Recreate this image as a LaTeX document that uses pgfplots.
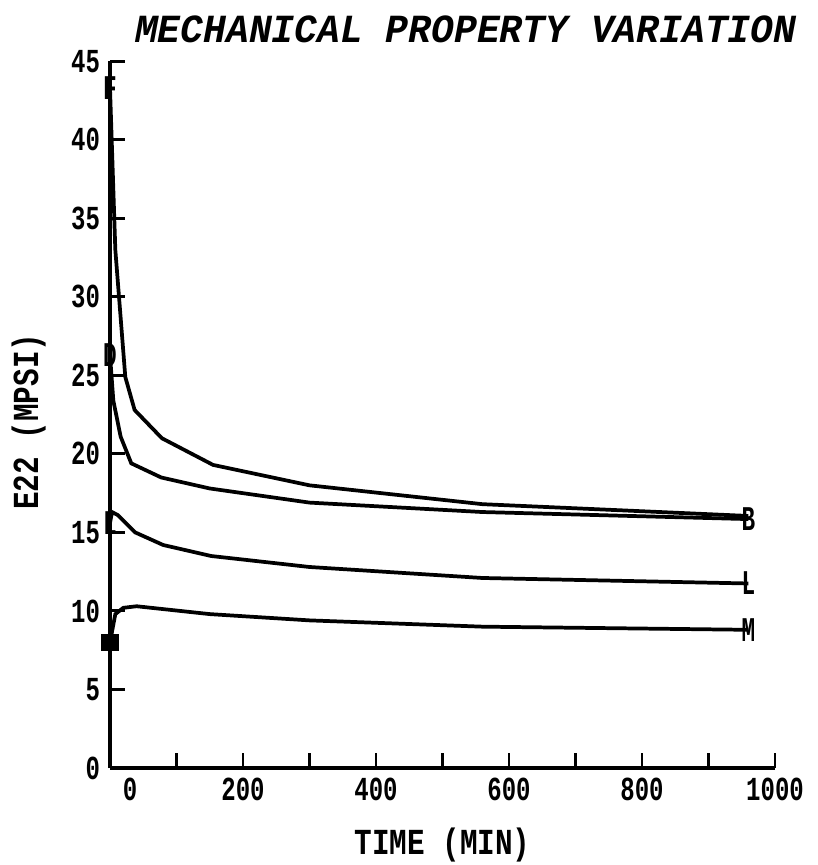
\documentclass[border=0pt]{standalone}
\usepackage{fontspec}
\setmainfont{Liberation Mono}
\usepackage{graphicx}
\usepackage{pgfplots}
\pgfplotsset{compat=1.18}

% E22 vs time, four cure cycles
\pgfplotstableread{
t v
0 43.3
8 33.0
23 24.9
37 22.8
78 21.0
155 19.3
300 18.0
560 16.8
960 16.05
}\curveF
\pgfplotstableread{
t v
0 26.3
5 23.4
16 21.1
32 19.4
77 18.5
150 17.8
300 16.9
560 16.3
960 15.85
}\curveD
\pgfplotstableread{
t v
0 15.6
3 16.3
12 16.1
38 15.0
80 14.2
152 13.5
300 12.8
560 12.1
960 11.75
}\curveL
\pgfplotstableread{
t v
0 8.0
8 9.8
20 10.2
40 10.3
150 9.8
300 9.4
560 9.0
960 8.8
}\curveM

% tall narrow plotter-like lettering
\newcommand{\tl}[1]{\scalebox{1}[1.4]{#1}}
\newcommand{\mk}[1]{\scalebox{0.85}[1.3]{\fontsize{20}{22}\selectfont\bfseries #1}}

\begin{document}
\begin{tikzpicture}
\begin{axis}[
    scale only axis,
    width=498.75pt, height=530pt,
    xmin=0, xmax=1000, ymin=0, ymax=45,
    axis lines=left,
    axis line style={-, line width=2.6pt},
    clip=false,
    tick align=inside,
    major tick length=11pt,
    every tick/.style={line width=2.2pt, black},
    xtick={0,100,...,1000},
    xticklabels={{\hspace*{30pt}\tl{0}},{},\tl{200},{},\tl{400},{},\tl{600},{},\tl{800},{},\tl{1000}},
    ytick={0,5,...,45},
    yticklabel={\tl{\pgfmathprintnumber{\tick}}},
    /pgf/number format/assume math mode=true,
    tick label style={font=\fontsize{18}{20}\selectfont\bfseries},
    xticklabel style={yshift=-4pt},
    yticklabel style={xshift=-4pt},
    title={\scalebox{1}[1.05]{\fontsize{28.5}{30}\selectfont\bfseries\itshape MECHANICAL PROPERTY VARIATION}},
    title style={at={(rel axis cs:0.535,1)}, anchor=south, yshift=8pt, inner sep=0pt},
    xlabel={\scalebox{1}[1.25]{\fontsize{22}{24}\selectfont\bfseries TIME (MIN)}},
    xlabel style={at={(rel axis cs:0.5,0)}, anchor=center, yshift=-58pt},
    ylabel={\scalebox{1}[1.25]{\fontsize{22}{24}\selectfont\bfseries E22 (MPSI)}},
    ylabel style={at={(rel axis cs:0,0.49)}, anchor=center, yshift=61pt},
    every axis plot/.append style={line width=2.8pt, black},
]
\addplot[mark=text, text mark={\mk{F}}, mark indices={1}] table[x=t,y=v] {\curveF};
\addplot[mark=text, text mark={\mk{D}}, mark indices={1}] table[x=t,y=v] {\curveD};
\addplot[only marks, mark=text, text mark={\mk{B}}, mark indices={9}, forget plot] table[x=t,y=v] {\curveD};
\addplot[mark=text, text mark={\mk{L}}, mark indices={1,9}] table[x=t,y=v] {\curveL};
\addplot[mark=square*, mark size=5pt, mark indices={1}] table[x=t,y=v] {\curveM};
\addplot[only marks, mark=text, text mark={\mk{M}}, mark indices={8}, forget plot] table[x=t,y=v] {\curveM};
\coordinate (ll) at (rel axis cs:0,0);
\coordinate (ur) at (rel axis cs:1,1);
\end{axis}
\pgfresetboundingbox
\path ([xshift=-82.5pt,yshift=-72.75pt]ll) rectangle ([xshift=31.5pt,yshift=46pt]ur);
\end{tikzpicture}
\end{document}
